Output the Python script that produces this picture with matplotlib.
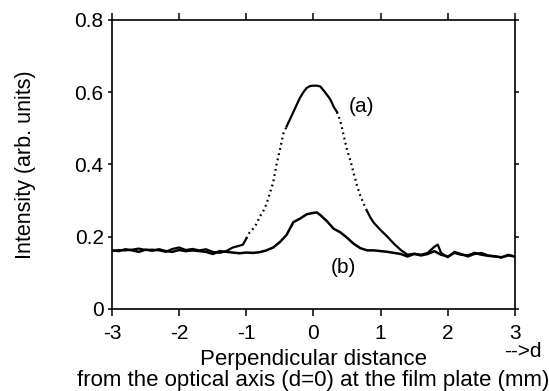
import numpy as np
import matplotlib
matplotlib.use("Agg")
import matplotlib.pyplot as plt

plt.rcParams["font.family"] = ["Liberation Sans", "DejaVu Sans"]

# ---- curve (a) ----
xa = [-3.0, -2.9, -2.8, -2.7, -2.6, -2.5, -2.4, -2.3, -2.2, -2.1, -2.0,
      -1.9, -1.8, -1.7, -1.6, -1.5, -1.4, -1.3, -1.2, -1.1, -1.05, -1.0,
      -0.95, -0.9, -0.85, -0.8, -0.75, -0.7, -0.65, -0.6, -0.55, -0.5,
      -0.45, -0.4, -0.35, -0.3, -0.25, -0.2, -0.15, -0.1, -0.05, 0.0,
      0.05, 0.1, 0.15, 0.2, 0.25, 0.3, 0.35, 0.4, 0.45, 0.5, 0.55, 0.6,
      0.65, 0.7, 0.75, 0.8, 0.85, 0.9, 1.0, 1.1, 1.2, 1.3, 1.4, 1.5, 1.6,
      1.7, 1.8, 1.85, 1.9, 2.0, 2.1, 2.2, 2.3, 2.4, 2.5, 2.6, 2.7, 2.8,
      2.9, 3.0]
ya = [0.160, 0.163, 0.162, 0.164, 0.167, 0.163, 0.164, 0.162, 0.158, 0.166,
      0.170, 0.163, 0.166, 0.162, 0.165, 0.158, 0.155, 0.160, 0.170, 0.175,
      0.178, 0.195, 0.212, 0.222, 0.235, 0.255, 0.270, 0.290, 0.320, 0.350,
      0.400, 0.440, 0.485, 0.505, 0.525, 0.545, 0.565, 0.585, 0.600, 0.612,
      0.617, 0.618, 0.618, 0.616, 0.605, 0.593, 0.580, 0.560, 0.545, 0.520,
      0.480, 0.440, 0.410, 0.375, 0.340, 0.312, 0.290, 0.270, 0.252, 0.238,
      0.218, 0.200, 0.180, 0.163, 0.150, 0.153, 0.150, 0.155, 0.172, 0.178,
      0.155, 0.143, 0.158, 0.152, 0.145, 0.152, 0.155, 0.148, 0.146, 0.142,
      0.150, 0.145]

# ---- curve (b) ----
xb = [-3.0, -2.9, -2.8, -2.7, -2.6, -2.5, -2.4, -2.3, -2.2, -2.1, -2.0,
      -1.9, -1.8, -1.7, -1.6, -1.5, -1.4, -1.3, -1.2, -1.1, -1.0, -0.9,
      -0.8, -0.7, -0.6, -0.5, -0.4, -0.3, -0.2, -0.1, 0.0, 0.05, 0.1, 0.2,
      0.3, 0.4, 0.5, 0.6, 0.7, 0.8, 0.9, 1.0, 1.1, 1.2, 1.3, 1.4, 1.5, 1.6,
      1.7, 1.8, 1.9, 2.0, 2.1, 2.2, 2.3, 2.4, 2.5, 2.6, 2.7, 2.8, 2.9, 3.0]
yb = [0.162, 0.160, 0.165, 0.162, 0.158, 0.164, 0.161, 0.165, 0.160, 0.158,
      0.163, 0.160, 0.162, 0.160, 0.158, 0.152, 0.160, 0.158, 0.156, 0.154,
      0.156, 0.155, 0.157, 0.162, 0.170, 0.185, 0.205, 0.240, 0.250, 0.262,
      0.266, 0.267, 0.260, 0.243, 0.222, 0.212, 0.197, 0.180, 0.168, 0.162,
      0.162, 0.160, 0.158, 0.155, 0.152, 0.145, 0.152, 0.148, 0.152, 0.160,
      0.150, 0.145, 0.155, 0.150, 0.148, 0.155, 0.150, 0.147, 0.145, 0.143,
      0.148, 0.145]

# where curve (a) is drawn dotted (steep flanks)
dotted_ranges = [(-1.0, -0.4), (0.35, 0.8)]

fig = plt.figure(figsize=(5.49, 3.91), dpi=100)
ax = fig.add_axes([0.204, 0.210, 0.734, 0.739])

xa_arr = np.array(xa)
ya_arr = np.array(ya)
edges = [-3.0] + [v for r in dotted_ranges for v in r] + [3.0]
for k in range(len(edges) - 1):
    lo, hi = edges[k], edges[k + 1]
    m = (xa_arr >= lo - 1e-9) & (xa_arr <= hi + 1e-9)
    if k % 2 == 1:
        ax.plot(xa_arr[m], ya_arr[m], color="black", lw=1.6,
                linestyle=(0, (0.8, 1.6)))
    else:
        ax.plot(xa_arr[m], ya_arr[m], color="black", lw=1.6)

ax.plot(xb, yb, color="black", lw=1.8)

ax.text(0.52, 0.56, "(a)", fontsize=15, va="center", ha="left")
ax.text(0.25, 0.114, "(b)", fontsize=15, va="center", ha="left")

ax.set_xlim(-3, 3)
ax.set_ylim(0, 0.8)
ax.set_xticks([-3, -2, -1, 0, 1, 2, 3])
ax.set_xticklabels(["-3", "-2", "-1", "0", "1", "2", "3"])
ax.set_yticks([0, 0.2, 0.4, 0.6, 0.8])
ax.set_yticklabels(["0", "0.2", "0.4", "0.6", "0.8"])
ax.tick_params(direction="out", length=5, width=1.1, labelsize=15,
               top=True, right=True)
ax.tick_params(axis="x", pad=6)
ax.tick_params(axis="y", which="major", left=True, length=3, pad=3)
ax.tick_params(axis="y", right=True)
for s in ax.spines.values():
    s.set_linewidth(1.2)

fig.text(0.046, 0.578, "Intensity (arb. units)", fontsize=15.5,
         rotation=90, ha="center", va="center")
fig.text(0.571, 0.066, "Perpendicular distance", fontsize=16,
         ha="center", va="baseline")
fig.text(0.571, 0.012, "from the optical axis (d=0) at the film plate (mm)",
         fontsize=16, ha="center", va="baseline")
fig.text(0.953, 0.087, "-->d", fontsize=15, ha="center", va="baseline")

fig.savefig("out.png", dpi=100)
